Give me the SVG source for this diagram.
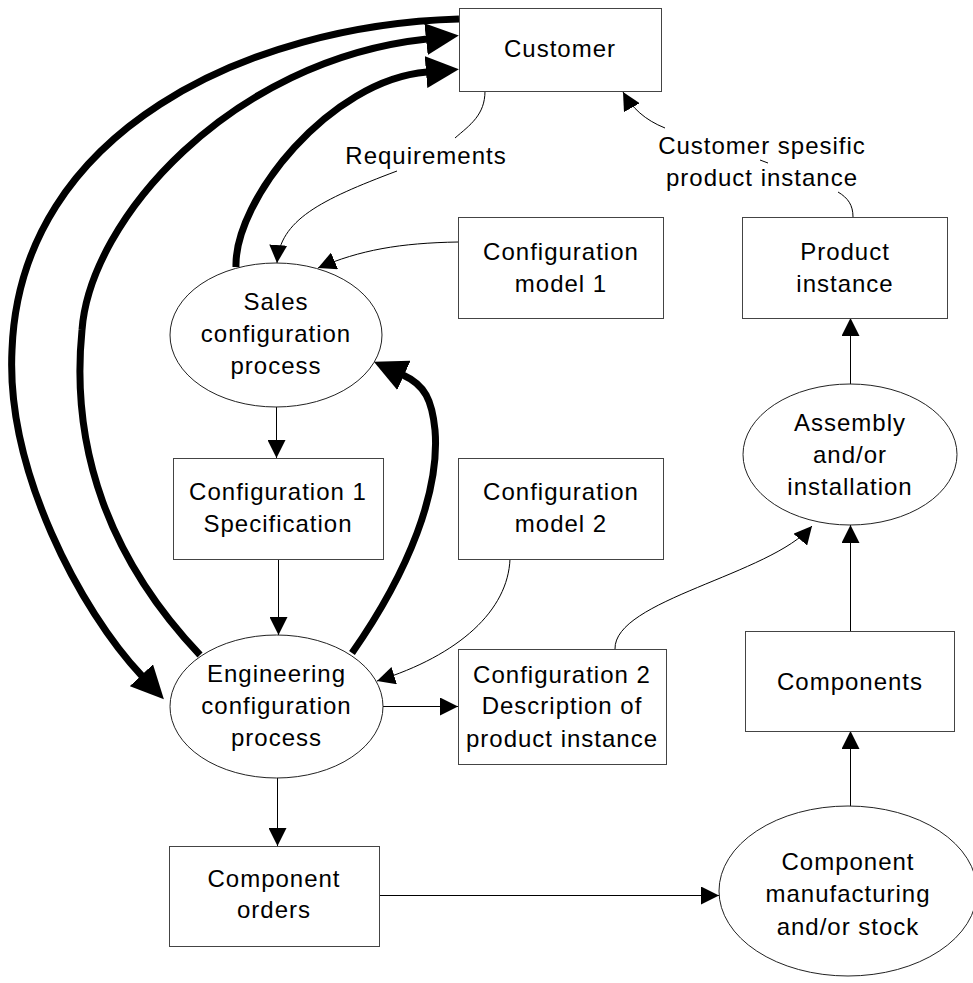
<svg xmlns="http://www.w3.org/2000/svg" width="973" height="983" viewBox="0 0 973 983">
<style>
.box{fill:#fff;stroke:#444;stroke-width:1}
.ell{fill:#fff;stroke:#222;stroke-width:1}
.t{font-family:"Liberation Sans",Arial,sans-serif;font-size:24px;letter-spacing:1px;text-anchor:middle;fill:#000}
.thin{fill:none;stroke:#000;stroke-width:1}
.thick{fill:none;stroke:#000;stroke-width:7}
</style>
<defs>
<marker id="a" markerUnits="userSpaceOnUse" markerWidth="18" markerHeight="18" refX="18" refY="9" orient="auto" viewBox="0 0 18 18"><path d="M0,0 L18,9 L0,18 z" fill="#000"/></marker>
<marker id="A" markerUnits="userSpaceOnUse" markerWidth="33" markerHeight="32" refX="1" refY="16" orient="auto" viewBox="0 0 33 32"><path d="M0,0 L33,16 L0,32 z" fill="#000"/></marker>
</defs>
<g id="connectors">
<path class="thick" d="M459 19 C250 25 20 130 12 350 C6 470 80 610 142 676" marker-end="url(#A)"/>
<path class="thick" d="M200 655 C110 560 70 450 82 330 C90 220 230 60 427 39" marker-end="url(#A)"/>
<path class="thick" d="M236 267 C234 200 330 80 427 72" marker-end="url(#A)"/>
<path class="thick" d="M352 653 C410 570 440 490 435 430 C432 400 425 385 403 375" marker-end="url(#A)"/>
<path class="thin" d="M485 91 C485 115 470 125 455 138"/>
<path class="thin" d="M397 171 C320 200 280 220 277 263" marker-end="url(#a)"/>
<text class="t" x="426" y="164">Requirements</text>
<path class="thin" d="M458 242 C400 243 360 250 318 268" marker-end="url(#a)"/>
<path class="thin" d="M276.5 407 L276.5 458" marker-end="url(#a)"/>
<path class="thin" d="M278.5 559 L278.5 635" marker-end="url(#a)"/>
<path class="thin" d="M510 559 C508 610 460 655 377 681" marker-end="url(#a)"/>
<path class="thin" d="M383 706.5 L458 706.5" marker-end="url(#a)"/>
<path class="thin" d="M277.5 778 L277.5 846" marker-end="url(#a)"/>
<path class="thin" d="M379 895.5 L719 895.5" marker-end="url(#a)"/>
<path class="thin" d="M850.5 806 L850.5 731" marker-end="url(#a)"/>
<path class="thin" d="M850.5 631 L850.5 525" marker-end="url(#a)"/>
<path class="thin" d="M615 649 C614 600 770 575 812 526" marker-end="url(#a)"/>
<path class="thin" d="M850.5 384 L850.5 318" marker-end="url(#a)"/>
<path class="thin" d="M853 217 C853 205 848 198 838 192 M760 160 L768 163"/>
<path class="thin" d="M665 128 C645 120 632 108 623 92" marker-end="url(#a)"/>
<text class="t" x="762" y="154">Customer spesific</text>
<text class="t" x="762" y="186">product instance</text>
</g>
<g id="customer"><rect class="box" x="459.5" y="8.5" width="202" height="83"/><text class="t" x="560" y="57">Customer</text></g>
<g id="config-model-1"><rect class="box" x="458.5" y="217.5" width="205" height="101"/><text class="t" x="561" y="260">Configuration</text><text class="t" x="561" y="292">model 1</text></g>
<g id="product-instance"><rect class="box" x="742.5" y="217.5" width="205" height="101"/><text class="t" x="845" y="260">Product</text><text class="t" x="845" y="292">instance</text></g>
<g id="sales-process"><ellipse class="ell" cx="276" cy="335" rx="106" ry="72"/><text class="t" x="276" y="310">Sales</text><text class="t" x="276" y="342">configuration</text><text class="t" x="276" y="374">process</text></g>
<g id="config1-spec"><rect class="box" x="173.5" y="458.5" width="210" height="101"/><text class="t" x="278" y="500">Configuration 1</text><text class="t" x="278" y="532">Specification</text></g>
<g id="config-model-2"><rect class="box" x="458.5" y="458.5" width="205" height="101"/><text class="t" x="561" y="500">Configuration</text><text class="t" x="561" y="532">model 2</text></g>
<g id="assembly"><ellipse class="ell" cx="850" cy="454.5" rx="107" ry="70.5"/><text class="t" x="850" y="431">Assembly</text><text class="t" x="850" y="463">and/or</text><text class="t" x="850" y="495">installation</text></g>
<g id="engineering-process"><ellipse class="ell" cx="276.5" cy="706.5" rx="106.5" ry="71.5"/><text class="t" x="276.5" y="682">Engineering</text><text class="t" x="276.5" y="714">configuration</text><text class="t" x="276.5" y="746">process</text></g>
<g id="config2"><rect class="box" x="458.5" y="649.5" width="208" height="115"/><text class="t" x="562" y="683">Configuration 2</text><text class="t" x="562" y="714">Description of</text><text class="t" x="562" y="747">product instance</text></g>
<g id="components"><rect class="box" x="745.5" y="631.5" width="209" height="100"/><text class="t" x="850" y="690">Components</text></g>
<g id="component-orders"><rect class="box" x="169.5" y="846.5" width="210" height="100"/><text class="t" x="274" y="887">Component</text><text class="t" x="274" y="918">orders</text></g>
<g id="component-manufacturing"><ellipse class="ell" cx="848" cy="891" rx="129" ry="85"/><text class="t" x="848" y="870">Component</text><text class="t" x="848" y="902">manufacturing</text><text class="t" x="848" y="935">and/or stock</text></g>
</svg>
